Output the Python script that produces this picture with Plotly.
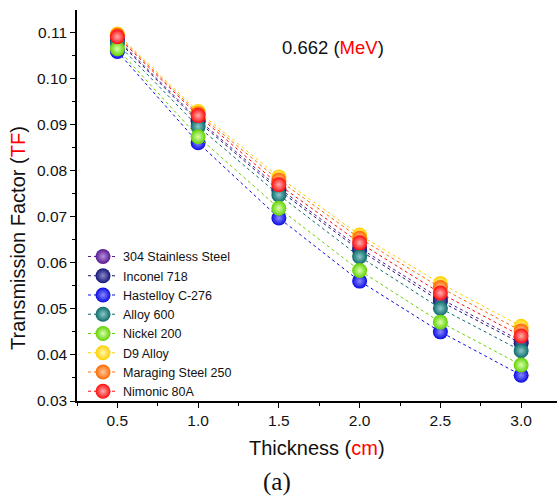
import plotly.graph_objects as go

thickness = [0.5, 1.0, 1.5, 2.0, 2.5, 3.0]

names = ["304 Stainless Steel", "Inconel 718", "Hastelloy C-276", "Alloy 600",
         "Nickel 200", "D9 Alloy", "Maraging Steel 250", "Nimonic 80A"]

ss304 = [0.1085, 0.0910, 0.0762, 0.0632, 0.0522, 0.0430]
inconel718 = [0.1082, 0.0906, 0.0757, 0.0627, 0.0516, 0.0425]
hastelloy = [0.1058, 0.0860, 0.0697, 0.0560, 0.0450, 0.0356]
alloy600 = [0.1075, 0.0895, 0.0747, 0.0613, 0.0501, 0.0409]
nickel200 = [0.1064, 0.0873, 0.0718, 0.0583, 0.0471, 0.0378]
d9alloy = [0.1096, 0.0928, 0.0786, 0.0660, 0.0555, 0.0462]
maraging250 = [0.1093, 0.0923, 0.0779, 0.0653, 0.0546, 0.0452]
nimonic80a = [0.1090, 0.0919, 0.0769, 0.0643, 0.0534, 0.0441]

series = [ss304, inconel718, hastelloy, alloy600, nickel200, d9alloy, maraging250, nimonic80a]
colors = ["#55178F", "#141478", "#0A0AE0", "#0B6B6B", "#62D000", "#FFD000", "#FF6A00", "#FF0A0A"]
highlights = ["#B890E0", "#8A8AC8", "#8A8AFF", "#8CC8C8", "#D8FFB0", "#FFF6B0", "#FFC8A0", "#FFB0B0"]

FONT = "Arial"

fig = go.Figure()
for name, vals, c, h in zip(names, series, colors, highlights):
    fig.add_trace(go.Scatter(
        x=thickness, y=vals, name=name, mode="lines+markers",
        line=dict(color=c, width=1, dash="3px,3px"),
        marker=dict(size=15, color=c, line=dict(width=0),
                    gradient=dict(type="radial", color=h)),
    ))

axis_common = dict(
    showline=True, linecolor="black", linewidth=1.5, mirror=False,
    ticks="outside", ticklen=5, tickwidth=1.2, tickcolor="black",
    showgrid=False, zeroline=False,
    tickfont=dict(family=FONT, size=15.5, color="#111"),
)

fig.update_xaxes(range=[0.25, 3.222], dtick=0.5, tick0=0.5, tickformat=".1f",
                 minor=dict(ticks="outside", ticklen=3, dtick=0.25, tickcolor="black"),
                 **axis_common)
fig.update_yaxes(range=[0.03, 0.1148], dtick=0.01, tick0=0.03, tickformat=".2f",
                 minor=dict(ticks="outside", ticklen=3, dtick=0.005, tickcolor="black"),
                 **axis_common)

fig.update_layout(
    width=560, height=500,
    margin=dict(l=77, r=3, t=10, b=99),
    paper_bgcolor="white", plot_bgcolor="white",
    font=dict(family=FONT, color="#111"),
    showlegend=True,
    legend=dict(x=0.0125, y=0.407, xanchor="left", yanchor="top",
                bgcolor="rgba(0,0,0,0)", font=dict(family=FONT, size=12.5, color="#111"),
                itemwidth=30, tracegroupgap=0),
    annotations=[
        dict(text="0.662 (<span style='color:red'>MeV</span>)", xref="paper", yref="paper",
             x=0.533, y=0.905, xanchor="center", yanchor="middle", showarrow=False,
             font=dict(family=FONT, size=18.5, color="#111")),
        dict(text="Thickness (<span style='color:red'>cm</span>)", xref="paper", yref="paper",
             x=0.5, y=0, yshift=-47, xanchor="center", yanchor="middle", showarrow=False,
             font=dict(family=FONT, size=20, color="#111")),
        dict(text="Transmission Factor (<span style='color:red'>TF</span>)", xref="paper", yref="paper",
             x=0, xshift=-59, y=0.417, xanchor="center", yanchor="middle", textangle=-90,
             showarrow=False, font=dict(family=FONT, size=20, color="#111")),
        dict(text="(a)", xref="paper", yref="paper",
             x=0.417, y=0, yshift=-81, xanchor="center", yanchor="middle", showarrow=False,
             font=dict(family="Liberation Serif", size=25, color="#111")),
    ],
)

fig.write_html("out.html")
